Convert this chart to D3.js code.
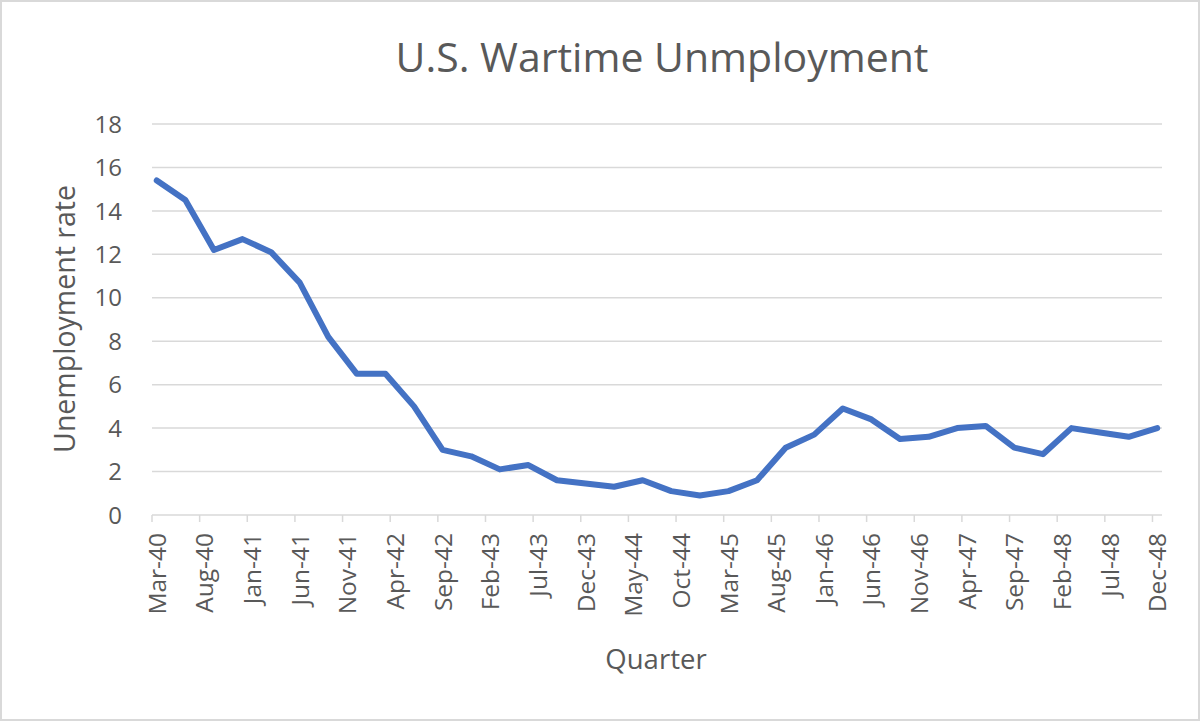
<!DOCTYPE html>
<html>
<head>
<meta charset="utf-8">
<script src="https://cdn.jsdelivr.net/npm/d3@7"></script>
<style>
  html, body { margin: 0; padding: 0; background: #fff; }
  svg { display: block; font-family: "Open Sans", "Segoe UI", sans-serif; }
</style>
</head>
<body>
<svg id="chart" width="1200" height="721"></svg>
<script>
// ---- data ----
const quarters = [
  "Mar-40","Jun-40","Sep-40","Dec-40","Mar-41","Jun-41","Sep-41","Dec-41",
  "Mar-42","Jun-42","Sep-42","Dec-42","Mar-43","Jun-43","Sep-43","Dec-43",
  "Mar-44","Jun-44","Sep-44","Dec-44","Mar-45","Jun-45","Sep-45","Dec-45",
  "Mar-46","Jun-46","Sep-46","Dec-46","Mar-47","Jun-47","Sep-47","Dec-47",
  "Mar-48","Jun-48","Sep-48","Dec-48"
];
const unemployment = [
  15.4, 14.5, 12.2, 12.7, 12.1, 10.7, 8.2, 6.5,
  6.5, 5.0, 3.0, 2.7, 2.1, 2.3, 1.6, 1.45,
  1.3, 1.6, 1.1, 0.9, 1.1, 1.6, 3.1, 3.7,
  4.9, 4.4, 3.5, 3.6, 4.0, 4.1, 3.1, 2.8,
  4.0, 3.8, 3.6, 4.0
];
const xTickLabels = [
  "Mar-40","Aug-40","Jan-41","Jun-41","Nov-41","Apr-42","Sep-42","Feb-43",
  "Jul-43","Dec-43","May-44","Oct-44","Mar-45","Aug-45","Jan-46","Jun-46",
  "Nov-46","Apr-47","Sep-47","Feb-48","Jul-48","Dec-48"
];
const yTicks = [0, 2, 4, 6, 8, 10, 12, 14, 16, 18];
const chartTitle = "U.S. Wartime Unmployment";
const xTitle = "Quarter";
const yTitle = "Unemployment rate";

// ---- helpers ----
const parse = d3.timeParse("%b-%y");
const base = parse(quarters[0]);
const monthIndex = s => {
  const d = parse(s);
  return (d.getFullYear() - base.getFullYear()) * 12 + d.getMonth() - base.getMonth();
};
const totalMonths = monthIndex(quarters[quarters.length - 1]) + 1;

const svg = d3.select("#chart");
const W = 1200, H = 721;
const textColor = "#595959";
const gridColor = "#d9d9d9";

// outer border
svg.append("rect")
  .attr("x", 1).attr("y", 1).attr("width", W - 2).attr("height", H - 2)
  .attr("fill", "#fff").attr("stroke", gridColor).attr("stroke-width", 2);

const x = d3.scaleLinear().domain([0, totalMonths]).range([152, 1162]);
const y = d3.scaleLinear().domain([0, 18]).range([515, 124]);

// gridlines
svg.append("g").selectAll("line").data(yTicks).join("line")
  .attr("x1", x(0)).attr("x2", x(totalMonths))
  .attr("y1", d => y(d)).attr("y2", d => y(d))
  .attr("stroke", gridColor).attr("stroke-width", 1.5);

// y axis labels
svg.append("g").selectAll("text").data(yTicks).join("text")
  .attr("x", 122).attr("y", d => y(d))
  .attr("dy", "0.36em")
  .attr("text-anchor", "end")
  .attr("fill", textColor)
  .attr("font-size", 24)
  .text(d => d);

// x axis ticks
const tickG = svg.append("g");
tickG.selectAll("line").data(xTickLabels).join("line")
  .attr("x1", d => x(monthIndex(d))).attr("x2", d => x(monthIndex(d)))
  .attr("y1", 515).attr("y2", 522)
  .attr("stroke", gridColor).attr("stroke-width", 1.5);

tickG.selectAll("text").data(xTickLabels).join("text")
  .attr("transform", d => `translate(${x(monthIndex(d)) + 5},533) rotate(-90)`)
  .attr("dy", "0.36em")
  .attr("text-anchor", "end")
  .attr("fill", textColor)
  .attr("font-size", 24.5)
  .text(d => d);

// line
const line = d3.line()
  .x((d, i) => x(monthIndex(quarters[i]) + 0.5))
  .y(d => y(d));

svg.append("path")
  .datum(unemployment)
  .attr("d", line)
  .attr("fill", "none")
  .attr("stroke", "#4472C4")
  .attr("stroke-width", 6)
  .attr("stroke-linejoin", "round")
  .attr("stroke-linecap", "round");

// titles
svg.append("text")
  .attr("x", 662).attr("y", 72)
  .attr("text-anchor", "middle")
  .attr("fill", textColor)
  .attr("font-size", 41)
  .text(chartTitle);

svg.append("text")
  .attr("x", 656).attr("y", 669)
  .attr("text-anchor", "middle")
  .attr("fill", textColor)
  .attr("font-size", 27.5)
  .text(xTitle);

svg.append("text")
  .attr("transform", "translate(75,319) rotate(-90)")
  .attr("text-anchor", "middle")
  .attr("fill", textColor)
  .attr("font-size", 28.5)
  .text(yTitle);
</script>
</body>
</html>
